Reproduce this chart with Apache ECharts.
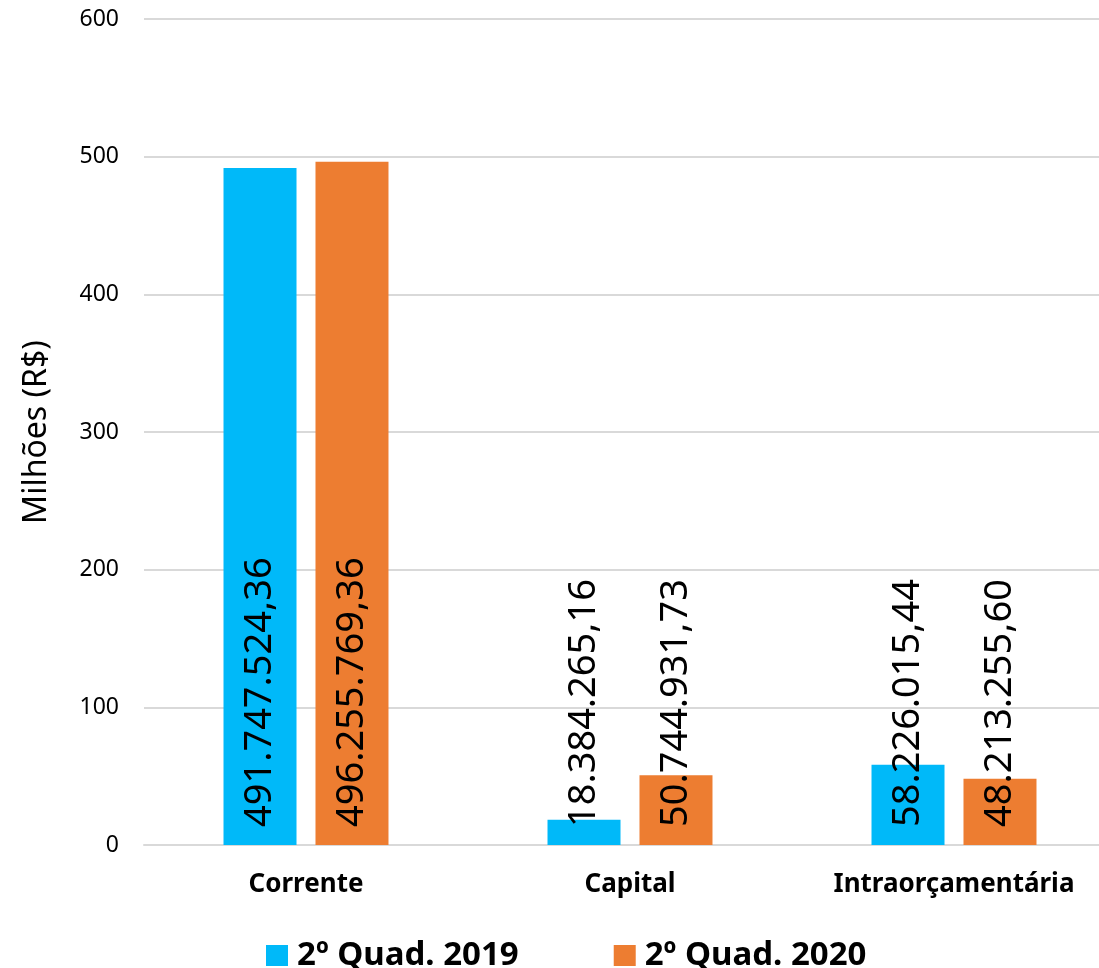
<!DOCTYPE html>
<html><head><meta charset="utf-8">
<script src="https://cdn.jsdelivr.net/npm/echarts@6/dist/echarts.min.js"></script>
<style>html,body{margin:0;padding:0;background:#fff}#c{width:1099px;height:968px}</style>
</head><body><div id="c"></div>
<script>
const categories = ['Corrente', 'Capital', 'Intraorçamentária'];
const seriesNames = ['2º Quad. 2019', '2º Quad. 2020'];
const values2019 = [491747524.36, 18384265.16, 58226015.44];
const values2020 = [496255769.36, 50744931.73, 48213255.60];
const yTicks = [0, 100, 200, 300, 400, 500, 600];

function fmtBR(v) {
  const parts = v.toFixed(2).split('.');
  const intPart = parts[0].replace(/\B(?=(\d{3})+(?!\d))/g, '.');
  return intPart + ',' + parts[1];
}

const chart = echarts.init(document.getElementById('c'));
const labelCfg = (raw) => ({
  show: true, position: 'insideBottom', rotate: 90, align: 'left', verticalAlign: 'middle',
  distance: 18, color: '#000', fontFamily: 'Noto Sans', fontSize: 38,
  formatter: p => fmtBR(raw[p.dataIndex])
});
chart.setOption({
  animation: false,
  grid: { left: 144, right: -17, top: 19, bottom: 123, outerBoundsMode: 'none', containLabel: false },
  legend: {
    bottom: -4, left: 266, padding: 0, itemGap: 95, itemWidth: 22, itemHeight: 21,
    icon: 'rect',
    textStyle: { fontFamily: 'Noto Sans', fontWeight: 'bold', fontSize: 33, color: '#000', padding: [0, 0, 0, 4] },
    data: seriesNames
  },
  xAxis: {
    type: 'category', data: categories,
    axisLine: { lineStyle: { color: '#d9d9d9', width: 2 } },
    axisTick: { show: false },
    axisLabel: { margin: 27, fontFamily: 'Noto Sans', fontWeight: 'bold', fontSize: 26, color: '#000' }
  },
  yAxis: {
    type: 'value', min: yTicks[0], max: yTicks[yTicks.length - 1], interval: 100,
    name: 'Milhões (R$)', nameLocation: 'middle', nameGap: 91,
    nameTextStyle: { fontFamily: 'Noto Sans', fontSize: 32, color: '#000' },
    axisLine: { show: false }, axisTick: { show: false },
    axisLabel: { margin: 25, fontFamily: 'Noto Sans', fontSize: 23, color: '#000' },
    splitLine: { lineStyle: { color: '#d9d9d9', width: 2 } }
  },
  series: [
    { name: seriesNames[0], type: 'bar', barWidth: 73, barGap: '26%',
      itemStyle: { color: '#00B9F9' },
      data: values2019.map(v => v / 1e6), label: labelCfg(values2019) },
    { name: seriesNames[1], type: 'bar', barWidth: 73,
      itemStyle: { color: '#ED7D31' },
      data: values2020.map(v => v / 1e6), label: labelCfg(values2020) }
  ]
});
</script></body></html>
